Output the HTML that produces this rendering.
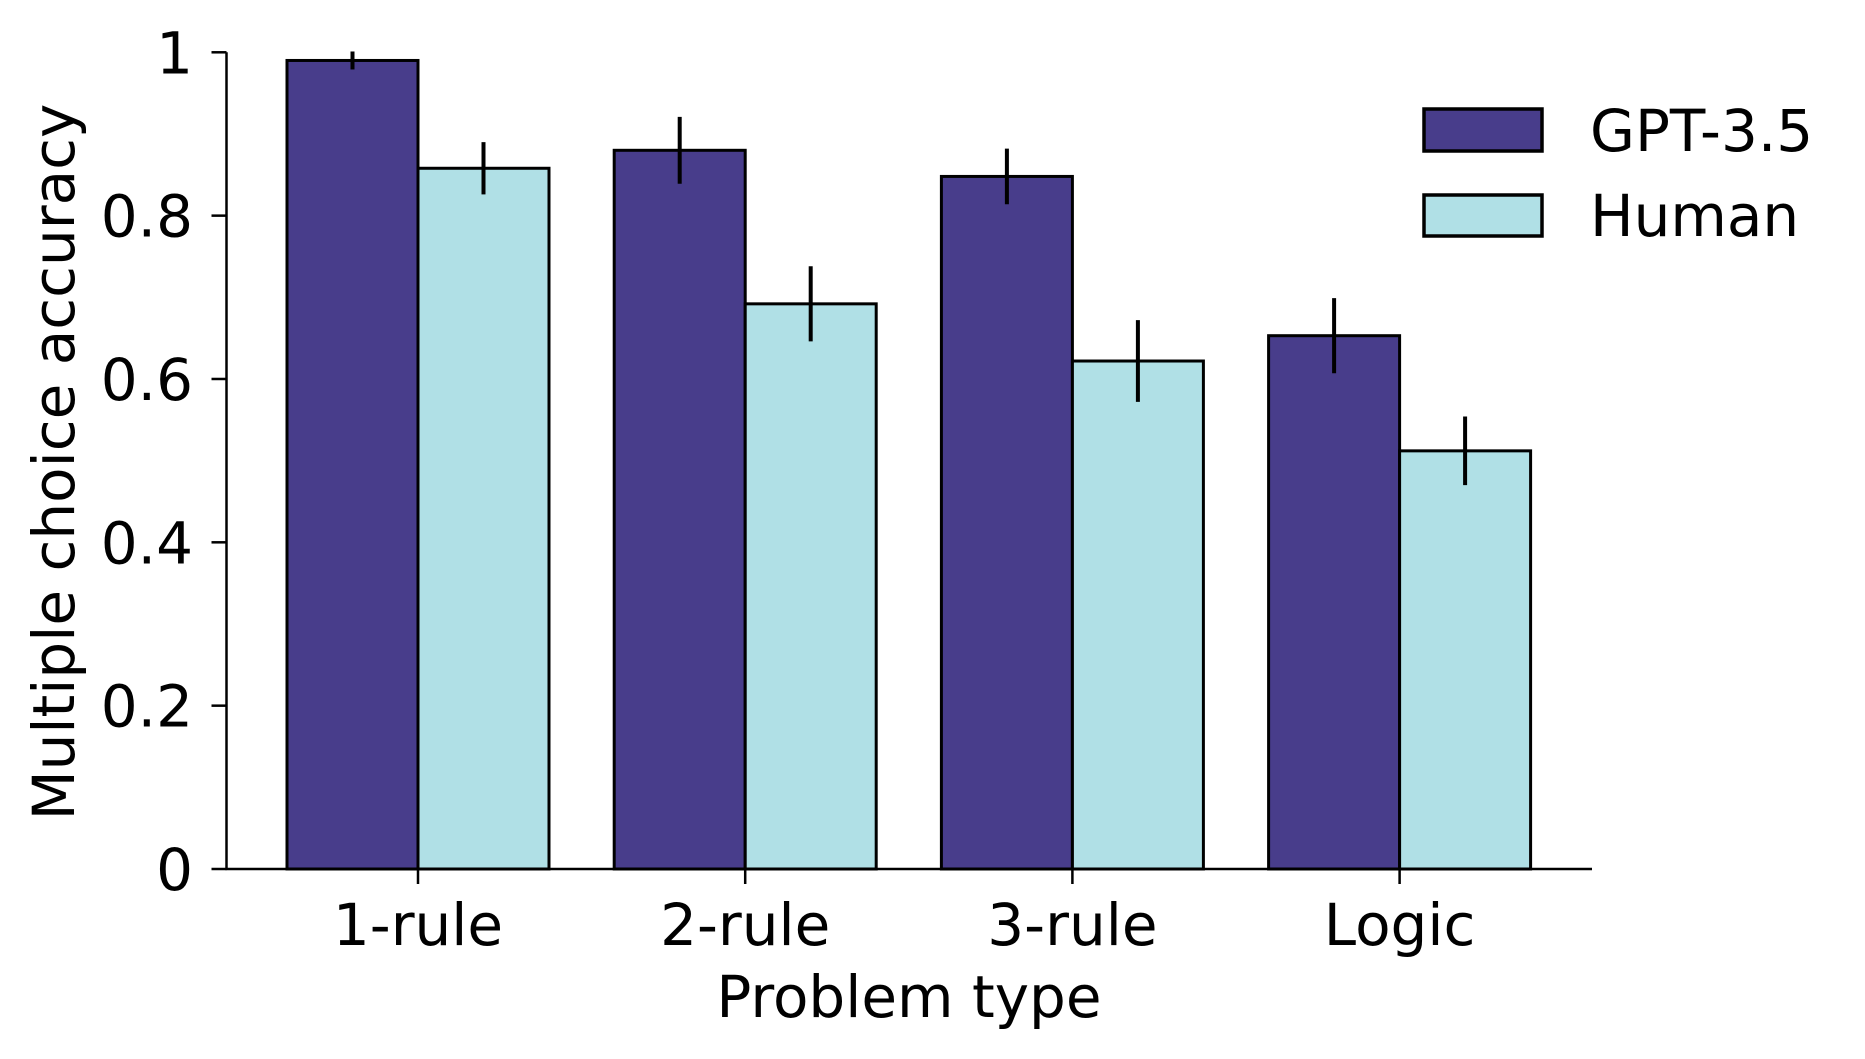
<!DOCTYPE html>
<html><head><meta charset="utf-8"><style>
body{margin:0;background:#fff}
svg{display:block;font-family:"DejaVu Sans","Liberation Sans",sans-serif}
</style></head><body>
<svg id="chart" width="1865" height="1059" viewBox="0 0 1865 1059" xmlns="http://www.w3.org/2000/svg">
<g id="marks"></g>
<g id="axes"></g>
<g id="legend">
  <rect x="1424" y="109" width="118" height="42" fill="#483d8b" stroke="#000" stroke-width="3.5"/>
  <text x="1590" y="151" font-size="58">GPT-3.5</text>
  <rect x="1424" y="195" width="118" height="41" fill="#b0e0e6" stroke="#000" stroke-width="3.5"/>
  <text x="1590" y="236" font-size="58">Human</text>
</g>
</svg>
<script>
const categories = ["1-rule","2-rule","3-rule","Logic"];
const gptValues = [0.99,0.88,0.848,0.653];
const humanValues = [0.858,0.692,0.622,0.512];
const gptErr = [0.011,0.041,0.034,0.046];
const humanErr = [0.032,0.046,0.05,0.042];
const yTicks = [0,0.2,0.4,0.6,0.8,1];
const yTickLabels = ["0","0.2","0.4","0.6","0.8","1"];

const NS="http://www.w3.org/2000/svg";
const L=226.5,R=1592,Y0=869,Y1=52.3;
const y=v=>Y0-(Y0-Y1)*v;
const xc=i=>418+i*327.2;
const bw=131;
function mk(tag,attrs,parent){const e=document.createElementNS(NS,tag);for(const k in attrs)e.setAttribute(k,attrs[k]);parent.appendChild(e);return e;}
const marks=document.getElementById('marks'),axes=document.getElementById('axes');
categories.forEach((c,i)=>{
  const series=[[gptValues,gptErr,'#483d8b',-1,'gpt'],[humanValues,humanErr,'#b0e0e6',0,'human']];
  series.forEach(([vals,errs,col,off,nm])=>{
    const x0=xc(i)+off*bw;
    const r=mk('rect',{x:x0,y:y(vals[i]),width:bw,height:Y0-y(vals[i]),fill:col,stroke:'#000','stroke-width':3},marks);
    
    
    const cx=x0+bw/2;
    const e=mk('line',{x1:cx,x2:cx,y1:y(vals[i]-errs[i]),y2:y(vals[i]+errs[i]),stroke:'#000','stroke-width':4},marks);
    
    
  });
  const t=mk('line',{x1:xc(i),x2:xc(i),y1:Y0,y2:Y0+15,stroke:'#000','stroke-width':2.5},axes);
  
  
  const lb=mk('text',{x:xc(i),y:945,'font-size':58,'text-anchor':'middle'},axes);
  lb.textContent=c;
  
  
});
yTicks.forEach((v,i)=>{
  const t=mk('line',{x1:L-15,x2:L,y1:y(v),y2:y(v),stroke:'#000','stroke-width':2.5},axes);
  
  
  const lb=mk('text',{x:193,y:y(v)+21,'font-size':58,'text-anchor':'end'},axes);
  lb.textContent=yTickLabels[i];
  
  
});
const ya=mk('line',{x1:L,x2:L,y1:Y1,y2:Y0+1,stroke:'#000','stroke-width':2.5},axes);


const xa=mk('line',{x1:L-1,x2:R,y1:Y0,y2:Y0,stroke:'#000','stroke-width':2.5},axes);


const xt=mk('text',{x:909,y:1017,'font-size':58,'text-anchor':'middle'},axes);
xt.textContent='Problem type';


const yt=mk('text',{x:0,y:0,'font-size':58,'text-anchor':'middle',transform:'translate(74,462) rotate(-90)'},axes);
yt.textContent='Multiple choice accuracy';


</script>
</body></html>
